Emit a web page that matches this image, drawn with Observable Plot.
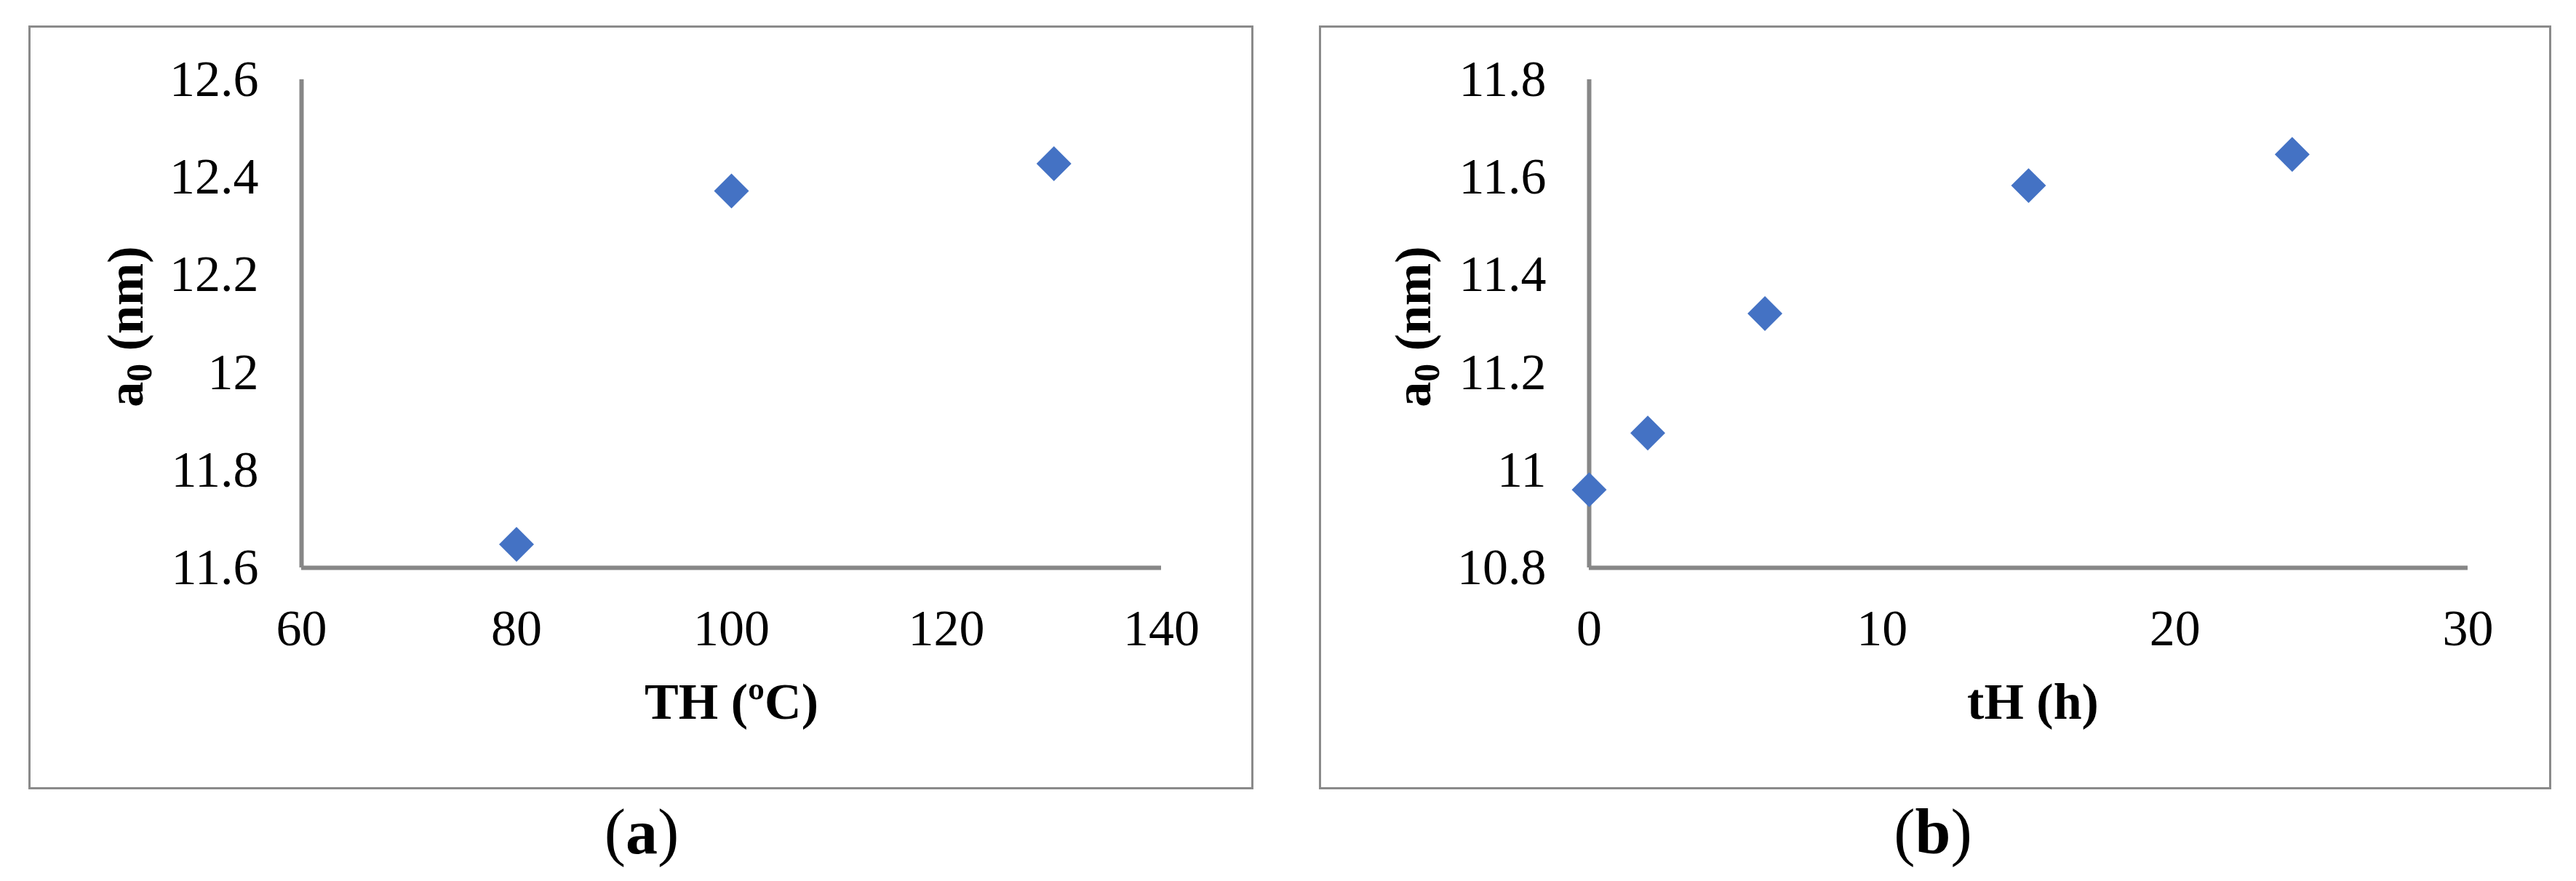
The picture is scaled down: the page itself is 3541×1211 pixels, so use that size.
<!DOCTYPE html>
<html>
<head>
<meta charset="utf-8">
<script src="https://cdn.jsdelivr.net/npm/d3@7"></script>
<script src="https://cdn.jsdelivr.net/npm/@observablehq/plot@0.6"></script>
<style>
html, body { margin: 0; padding: 0; background: #fff; }
#page { position: relative; width: 3541px; height: 1211px; overflow: hidden; background: #fff;
        font-family: "Liberation Serif", "Times New Roman", serif; color: #000; }
.panel { position: absolute; top: 35px; height: 1044px; border: 3px solid #8a8a8a; background: #fff; }
.panel svg { display: block; }
.cap { position: absolute; top: 1100px; font-size: 88px; line-height: 1; transform: translateX(-50%); white-space: nowrap; }
.cap b { font-weight: bold; }
</style>
</head>
<body>
<div id="page">
  <div id="pa" class="panel" style="left:39px; width:1678px;"></div>
  <div id="pb" class="panel" style="left:1813px; width:1688px;"></div>
  <div class="cap" style="left:882px;">(<b>a</b>)</div>
  <div class="cap" style="left:2657px;">(<b>b</b>)</div>
</div>
<script>
// ---- Data ----
const temperatureTH = [80, 100, 130];
const a0VsTemperature = [11.648, 12.372, 12.428];

const timeTH = [0, 2, 6, 15, 24];
const a0VsTime = [10.96, 11.076, 11.321, 11.583, 11.647];

const xTicksA = [60, 80, 100, 120, 140];
const yTicksA = [11.6, 11.8, 12, 12.2, 12.4, 12.6];
const xTicksB = [0, 10, 20, 30];
const yTicksB = [10.8, 11, 11.2, 11.4, 11.6, 11.8];

const xTitleA = "TH (ºC)";
const xTitleB = "tH (h)";
const yTitle = "a0 (nm)";

const FONT = '"Liberation Serif", "Times New Roman", serif';
const BLUE = "#4472C4";
const AXIS = "#878787";

function makePanel({xs, ys, xTicks, yTicks, xTitle, width, marginLeft, marginRight, titleDx}) {
  const data = xs.map((x, i) => ({x, y: ys[i]}));
  const xDomain = [xTicks[0], xTicks[xTicks.length - 1]];
  const yDomain = [yTicks[0], yTicks[yTicks.length - 1]];
  const plot = Plot.plot({
    width,
    height: 1044,
    marginLeft,
    marginRight,
    marginTop: 71,
    marginBottom: 302,
    style: {fontFamily: FONT, fontSize: "70px", color: "#000", background: "#fff"},
    x: {domain: xDomain},
    y: {domain: yDomain},
    marks: [
      Plot.axisX(xTicks, {tickSize: 0, tickPadding: 57, fontSize: 70, fontFamily: FONT, tickFormat: d => String(d), label: null}),
      Plot.axisY(yTicks, {tickSize: 0, tickPadding: 59, fontSize: 70, fontFamily: FONT, tickFormat: d => String(d), label: null}),
      Plot.ruleX([xDomain[0]], {y1: yDomain[0], y2: yDomain[1], stroke: AXIS, strokeWidth: 6}),
      Plot.ruleY([yDomain[0]], {stroke: AXIS, strokeWidth: 6}),
      Plot.dot(data, {x: "x", y: "y", symbol: "diamond2", r: 21.6, fill: BLUE, stroke: "none"}),
      Plot.text([xTitle], {frameAnchor: "bottom", dx: titleDx, dy: 207, text: d => d, fontWeight: "bold",
                           fontSize: 70, fontFamily: FONT, lineAnchor: "bottom", textAnchor: "middle"}),
      Plot.text([yTitle], {frameAnchor: "left", dx: -219, dy: 4, rotate: -90, text: d => d, fontWeight: "bold",
                           fontSize: 70, fontFamily: FONT, lineAnchor: "bottom", textAnchor: "middle"})
    ]
  });
  // subscript 0 in the y title
  plot.querySelectorAll("text").forEach(t => {
    if (t.textContent === yTitle) {
      const ns = "http://www.w3.org/2000/svg";
      t.textContent = "";
      t.appendChild(document.createTextNode("a"));
      const sub = document.createElementNS(ns, "tspan");
      sub.setAttribute("font-size", "50");
      sub.setAttribute("dy", "12");
      sub.textContent = "0";
      t.appendChild(sub);
      const rest = document.createElementNS(ns, "tspan");
      rest.setAttribute("dy", "-12");
      rest.textContent = " (nm)";
      t.appendChild(rest);
    }
  });
  return plot;
}

document.getElementById("pa").appendChild(makePanel({
  xs: temperatureTH, ys: a0VsTemperature, xTicks: xTicksA, yTicks: yTicksA, xTitle: xTitleA,
  width: 1678, marginLeft: 372, marginRight: 124, titleDx: 0
}));
document.getElementById("pb").appendChild(makePanel({
  xs: timeTH, ys: a0VsTime, xTicks: xTicksB, yTicks: yTicksB, xTitle: xTitleB,
  width: 1688, marginLeft: 368, marginRight: 112, titleDx: 6
}));
</script>
</body>
</html>
